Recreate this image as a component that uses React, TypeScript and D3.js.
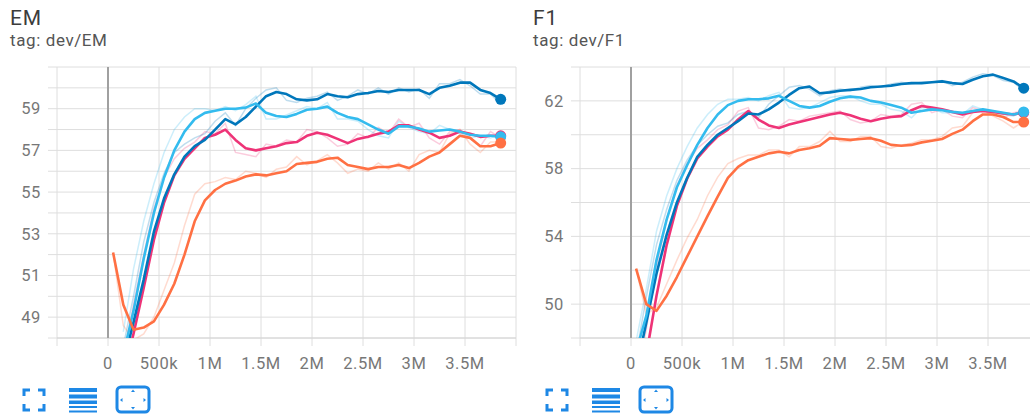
import React, { useEffect, useRef } from 'react';
import * as d3 from 'd3';

// training steps shared by every run
const steps = [50000, 150000, 250000, 350000, 450000, 550000, 650000, 750000, 850000, 950000,
    1050000, 1150000, 1250000, 1350000, 1450000, 1550000, 1650000, 1750000, 1850000, 1950000,
    2050000, 2150000, 2250000, 2350000, 2450000, 2550000, 2650000, 2750000, 2850000, 2950000,
    3050000, 3150000, 3250000, 3350000, 3450000, 3550000, 3650000, 3750000, 3850000];

const xTicks = [0, 500000, 1000000, 1500000, 2000000, 2500000, 3000000, 3500000];
const xTickLabels = ['0', '500k', '1M', '1.5M', '2M', '2.5M', '3M', '3.5M'];

const emYTicks = [49, 51, 53, 55, 57, 59];
const f1YTicks = [50, 54, 58, 62];

const runColors = ['#ee3377', '#0077bb', '#33bbee', '#ff7043'];

// dev/EM, smoothed
const emPink = [null, 46.2, 48.2, 50.4, 52.7, 54.5, 55.8, 56.6, 57.1, 57.6, 57.75, 58.0, 57.5, 57.1, 57.0, 57.1, 57.2, 57.35, 57.4, 57.7,
    57.85, 57.75, 57.55, 57.35, 57.55, 57.65, 57.8, 57.9, 58.2, 58.2, 58.0, 57.85, 57.6, 57.7, 57.9, 57.8, 57.65, 57.7, 57.7];
const emDarkBlue = [null, 46.8, 48.75, 50.8, 53.1, 54.7, 55.85, 56.7, 57.2, 57.5, 58.0, 58.5, 58.25, 58.6, 59.1, 59.6, 59.8, 59.7, 59.45, 59.4,
    59.45, 59.7, 59.6, 59.55, 59.7, 59.75, 59.85, 59.8, 59.9, 59.9, 59.9, 59.7, 60.0, 60.1, 60.25, 60.25, 59.9, 59.75, 59.45];
const emLightBlue = [null, 47.2, 49.3, 51.8, 54.0, 55.7, 57.0, 57.9, 58.5, 58.8, 58.9, 59.0, 59.0, 59.05, 59.25, 58.8, 58.65, 58.6, 58.75, 58.95,
    59.0, 59.1, 58.8, 58.6, 58.5, 58.25, 58.0, 57.8, 58.15, 58.15, 58.05, 57.9, 57.95, 58.0, 57.9, 57.75, 57.7, 57.7, 57.65];
const emOrange = [52.1, 49.6, 48.4, 48.5, 48.8, 49.6, 50.6, 52.0, 53.6, 54.6, 55.1, 55.4, 55.55, 55.75, 55.85, 55.8, 55.9, 56.0, 56.35, 56.4,
    56.45, 56.6, 56.65, 56.3, 56.2, 56.1, 56.2, 56.2, 56.3, 56.15, 56.4, 56.7, 56.9, 57.3, 57.7, 57.6, 57.2, 57.2, 57.35];

// dev/EM, raw
const emPinkRaw = [null, 47.0, 49.6, 52.0, 54.2, 55.7, 56.6, 57.1, 57.4, 57.9, 57.8, 58.3, 56.9, 56.8, 56.7, 57.3, 57.2, 57.5, 57.4, 58.0,
    57.9, 57.6, 57.2, 57.3, 57.8, 57.6, 58.1, 57.8, 58.5, 58.1, 58.3, 57.6, 57.3, 57.9, 58.0, 57.6, 57.2, 57.9, 57.6];
const emDarkBlueRaw = [null, 47.6, 50.0, 52.6, 54.5, 55.9, 56.9, 57.3, 57.6, 57.8, 58.4, 58.8, 58.2, 59.0, 59.5, 59.9, 60.0, 59.4, 59.3, 59.5,
    59.6, 59.8, 59.4, 59.6, 59.9, 59.7, 60.0, 59.7, 60.0, 59.8, 59.95, 59.5, 60.2, 60.2, 60.4, 60.1, 59.7, 59.7, 59.2];
const emLightBlueRaw = [null, 48.3, 51.3, 53.6, 55.4, 56.9, 58.0, 58.6, 59.0, 59.0, 58.9, 59.1, 58.9, 59.2, 59.6, 58.5, 58.5, 58.7, 58.9, 59.1,
    59.0, 59.3, 58.5, 58.5, 58.4, 58.0, 57.7, 57.6, 58.4, 58.1, 57.9, 57.8, 58.2, 58.0, 57.8, 57.6, 57.7, 57.6, 57.8];
const emOrangeRaw = [52.1, 48.6, 47.9, 48.2, 49.0, 50.3, 51.6, 53.4, 54.9, 55.4, 55.5, 55.7, 55.6, 56.0, 55.9, 55.7, 56.1, 56.2, 56.7, 56.3,
    56.5, 56.8, 56.4, 55.9, 56.1, 56.0, 56.4, 56.1, 56.4, 56.0, 56.8, 57.0, 56.9, 57.8, 58.0, 57.3, 56.9, 57.4, 57.4];

// dev/F1, smoothed
const f1Pink = [44.0, 47.0, 50.5, 53.5, 55.8, 57.4, 58.6, 59.3, 59.9, 60.3, 60.9, 61.4, 60.9, 60.55, 60.4, 60.6, 60.75, 60.9, 61.05, 61.2,
    61.3, 61.15, 60.95, 60.8, 60.95, 61.05, 61.1, 61.45, 61.7, 61.6, 61.5, 61.35, 61.2, 61.35, 61.4, 61.35, 61.25, 61.2, 61.3];
const f1DarkBlue = [46.1, 48.9, 51.8, 54.1, 56.0, 57.45, 58.7, 59.4, 60.0, 60.4, 60.8, 61.25, 61.2, 61.5, 61.9, 62.35, 62.75, 62.85, 62.45, 62.5,
    62.6, 62.65, 62.7, 62.8, 62.85, 62.9, 63.0, 63.05, 63.05, 63.1, 63.15, 63.05, 63.0, 63.25, 63.45, 63.55, 63.35, 63.15, 62.75];
const f1LightBlue = [47.2, 49.3, 52.6, 55.0, 56.9, 58.2, 59.4, 60.4, 61.2, 61.75, 62.0, 62.1, 62.1, 62.15, 62.3, 62.0, 61.7, 61.6, 61.7, 61.95,
    62.15, 62.25, 62.2, 62.0, 61.9, 61.75, 61.6, 61.3, 61.4, 61.5, 61.45, 61.35, 61.3, 61.4, 61.5, 61.4, 61.3, 61.2, 61.35];
const f1Orange = [52.1, 50.0, 49.6, 50.5, 51.6, 52.8, 54.0, 55.2, 56.35, 57.45, 58.1, 58.5, 58.7, 58.9, 59.0, 58.9, 59.1, 59.2, 59.35, 59.8,
    59.75, 59.7, 59.75, 59.8, 59.65, 59.4, 59.35, 59.4, 59.55, 59.65, 59.75, 60.05, 60.3, 60.8, 61.2, 61.2, 61.05, 60.75, 60.75];

// dev/F1, raw
const f1PinkRaw = [45.5, 48.5, 52.2, 55.0, 57.0, 58.3, 59.2, 59.7, 60.3, 60.6, 61.4, 61.6, 60.4, 60.3, 60.5, 60.9, 60.8, 61.1, 61.2, 61.3,
    61.4, 60.9, 60.7, 60.8, 61.2, 61.1, 61.2, 61.8, 61.9, 61.3, 61.5, 61.1, 61.0, 61.6, 61.4, 61.2, 61.0, 61.3, 61.4];
const f1DarkBlueRaw = [47.0, 50.4, 53.5, 55.6, 57.3, 58.5, 59.4, 60.0, 60.5, 60.7, 61.2, 61.4, 61.0, 61.8, 62.3, 62.8, 62.9, 62.7, 62.3, 62.6,
    62.7, 62.6, 62.8, 62.9, 62.8, 63.0, 63.1, 63.0, 63.1, 63.1, 63.2, 62.9, 63.1, 63.4, 63.6, 63.5, 63.2, 63.1, 62.6];
const f1LightBlueRaw = [47.8, 50.9, 54.3, 56.4, 58.0, 59.3, 60.4, 61.2, 61.8, 62.1, 62.1, 62.2, 62.0, 62.3, 62.5, 61.6, 61.5, 61.6, 61.9, 62.2,
    62.3, 62.3, 62.0, 61.8, 61.8, 61.5, 61.4, 61.0, 61.6, 61.6, 61.3, 61.3, 61.2, 61.7, 61.5, 61.3, 61.2, 61.1, 61.5];
const f1OrangeRaw = [52.1, 49.4, 49.8, 51.2, 52.6, 53.9, 55.0, 56.4, 57.5, 58.3, 58.6, 58.8, 58.8, 59.1, 59.1, 58.7, 59.3, 59.3, 59.6, 60.2,
    59.6, 59.6, 59.9, 59.9, 59.3, 59.2, 59.4, 59.5, 59.7, 59.7, 59.9, 60.4, 60.5, 61.3, 61.5, 61.1, 60.8, 60.4, 60.8];

const panels = [
    {
        id: 'em', title: 'EM', tag: 'tag: dev/EM', offset: 0, yDomain: [48, 61], gridStep: 1, yTicks: emYTicks,
        smooth: [emPink, emDarkBlue, emLightBlue, emOrange],
        raw: [emPinkRaw, emDarkBlueRaw, emLightBlueRaw, emOrangeRaw],
    },
    {
        id: 'f1', title: 'F1', tag: 'tag: dev/F1', offset: 523, yDomain: [48, 64], gridStep: 2, yTicks: f1YTicks,
        smooth: [f1Pink, f1DarkBlue, f1LightBlue, f1Orange],
        raw: [f1PinkRaw, f1DarkBlueRaw, f1LightBlueRaw, f1OrangeRaw],
    },
];

const App = () => {
    const svgRef = useRef(null);

    useEffect(() => {
        const svg = d3.select(svgRef.current);
        svg.selectAll('*').remove();

        const left = 57, right = 516, top = 67, bottom = 338;
        const iconColor = '#1e88e5';

        panels.forEach(p => {
            const g = svg.append('g').attr('transform', `translate(${p.offset},0)`);

            g.append('text').attr('x', 10).attr('y', 25)
                .attr('font-size', '21px').attr('letter-spacing', '0.8px').attr('fill', '#3c3c3c').text(p.title);
            g.append('text').attr('x', 10).attr('y', 46)
                .attr('font-size', '17px').attr('letter-spacing', '0.6px').attr('fill', '#555').text(p.tag);

            const x = d3.scaleLinear().domain([-500000, 4000000]).range([left, right]);
            const y = d3.scaleLinear().domain(p.yDomain).range([bottom, top]);

            // grid
            const gridY = d3.range(p.yDomain[0], p.yDomain[1] + 0.01, p.gridStep);
            g.selectAll('.hgrid').data(gridY).enter().append('line')
                .attr('x1', left - 9).attr('x2', right)
                .attr('y1', d => y(d)).attr('y2', d => y(d))
                .attr('stroke', '#dedede').attr('stroke-width', 1);
            const gridX = d3.range(-500000, 4000001, 500000);
            g.selectAll('.vgrid').data(gridX).enter().append('line')
                .attr('x1', d => x(d)).attr('x2', d => x(d))
                .attr('y1', top).attr('y2', bottom + 8)
                .attr('stroke', '#dedede').attr('stroke-width', 1);
            g.append('line').attr('x1', left).attr('x2', right).attr('y1', bottom).attr('y2', bottom)
                .attr('stroke', '#d4d4d4');
            g.append('line').attr('x1', x(0)).attr('x2', x(0)).attr('y1', top).attr('y2', bottom)
                .attr('stroke', '#a0a0a0').attr('stroke-width', 2);

            // tick labels
            g.selectAll('.ylab').data(p.yTicks).enter().append('text')
                .attr('x', left - 16).attr('y', d => y(d)).attr('dy', '0.35em')
                .attr('text-anchor', 'end').attr('font-size', '16.5px').attr('letter-spacing', '0.6px').attr('fill', '#777')
                .text(d => d);
            g.selectAll('.xlab').data(xTicks).enter().append('text')
                .attr('x', d => x(d)).attr('y', 369)
                .attr('text-anchor', 'middle').attr('font-size', '16.5px').attr('letter-spacing', '0.6px').attr('fill', '#777')
                .text((d, i) => xTickLabels[i]);

            // lines
            g.append('clipPath').attr('id', `clip-${p.id}`)
                .append('rect').attr('x', left).attr('y', top)
                .attr('width', right - left).attr('height', bottom - top);
            const plot = g.append('g').attr('clip-path', `url(#clip-${p.id})`);

            const line = d3.line<number | null>()
                .defined(d => d !== null)
                .x((d, i) => x(steps[i]))
                .y(d => y(d as number));

            p.raw.forEach((vals, k) => {
                plot.append('path').attr('d', line(vals))
                    .attr('fill', 'none').attr('stroke', runColors[k])
                    .attr('stroke-opacity', 0.25).attr('stroke-width', 1.5);
            });
            p.smooth.forEach((vals, k) => {
                plot.append('path').attr('d', line(vals))
                    .attr('fill', 'none').attr('stroke', runColors[k])
                    .attr('stroke-width', 2.6).attr('stroke-linejoin', 'round');
            });
            p.smooth.forEach((vals, k) => {
                const last = vals.length - 1;
                g.append('circle').attr('cx', x(steps[last])).attr('cy', y(vals[last] as number))
                    .attr('r', 5.5).attr('fill', runColors[k]);
            });

            // toolbar icons
            const icons = g.append('g').attr('fill', 'none').attr('stroke', iconColor).attr('stroke-width', 3);
            icons.append('path').attr('d', 'M24,396V390H30M38,390H44V396M44,404V410H38M30,410H24V404');
            [[388, 4], [394.5, 4], [400.5, 3.5], [406, 2], [410.5, 2]].forEach(([yy, h]) => {
                g.append('rect').attr('x', 69).attr('y', yy).attr('width', 28).attr('height', h).attr('fill', iconColor);
            });
            icons.append('rect').attr('x', 117).attr('y', 387).attr('width', 32).attr('height', 25).attr('rx', 4);
            const tri = [
                'M131,392L133,389.5L135,392Z', 'M131,407L133,409.5L135,407Z',
                'M122.5,398L120,400L122.5,402Z', 'M143.5,398L146,400L143.5,402Z',
            ];
            tri.forEach(t => g.append('path').attr('d', t).attr('fill', iconColor));
        });
    }, []);

    return (
        <svg ref={svgRef} width={1030} height={414}
            style={{ position: 'absolute', left: 0, top: 0, fontFamily: 'Roboto, sans-serif', background: '#fff' }} />
    );
};

export default App;
